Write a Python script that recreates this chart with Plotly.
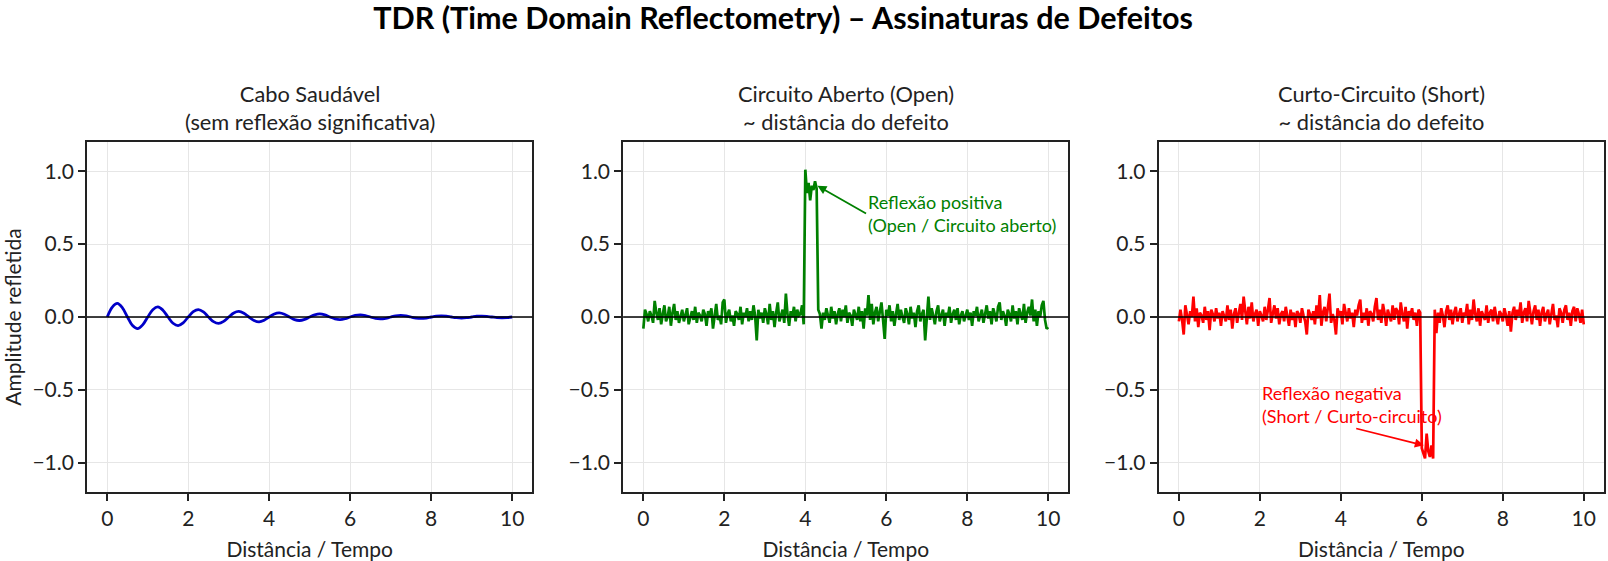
import numpy as np
import plotly.graph_objects as go

# --- data ---
x_blue = np.linspace(0, 10, 81)
y_blue = [
    0, 0.068, 0.093, 0.063, 0, -0.059, -0.080, -0.054,
    0, 0.050, 0.069, 0.047, 0, -0.043, -0.059, -0.040,
    0, 0.037, 0.051, 0.035, 0, -0.032, -0.044, -0.030,
    0, 0.028, 0.038, 0.026, 0, -0.024, -0.033, -0.022,
    0, 0.021, 0.028, 0.019, 0, -0.018, -0.024, -0.016,
    0, 0.015, 0.021, 0.014, 0, -0.013, -0.018, -0.012,
    0, 0.011, 0.015, 0.010, 0, -0.010, -0.013, -0.009,
    0, 0.008, 0.011, 0.008, 0, -0.007, -0.010, -0.007,
    0, 0.006, 0.008, 0.006, 0, -0.005, -0.007, -0.005,
    0, 0.005, 0.006, 0.004, 0, -0.004, -0.005, -0.004,
    0,
]

y_open = [
    -0.08, 0.05, 0.02, -0.03, 0.04, 0.01, -0.04, 0.11, 0.03, -0.02, 0.06, -0.05, 0.02, 0.08, -0.03, 0.00, 0.07, -0.06, 0.03, 0.09, -0.02, 0.04, -0.04, 0.01, 0.05,
    -0.03, 0.02, 0.06, -0.05, 0.00, 0.04, -0.02, 0.07, -0.04, 0.03, 0.01, -0.03, 0.05, 0.02, -0.06, 0.04, 0.00, 0.06, -0.08, 0.03, 0.09, -0.02, 0.01, -0.05, 0.10,
    0.12, -0.04, 0.02, 0.05, -0.03, 0.01, -0.06, 0.04, 0.02, -0.02, 0.07, -0.05, 0.03, 0.00, 0.06, -0.03, 0.04, -0.02, 0.08, 0.01, -0.16, 0.05, -0.01, 0.03, -0.04,
    0.06, 0.02, -0.05, 0.09, -0.02, 0.04, -0.07, 0.03, 0.10, -0.03, 0.01, 0.05, -0.04, 0.16, 0.02, -0.06, 0.04, 0.00, 0.07, -0.03, 0.05, 0.01, 0.02, 0.08, -0.05,
    1.01, 0.85, 0.92, 0.80, 0.90, 0.87, 0.93, 0.88, 0.05, 0.02, -0.08, 0.03, -0.02, 0.06, 0.01, -0.04, 0.07, -0.01, 0.04, -0.05, 0.02, 0.06, -0.03, 0.05, 0.00,
    0.08, -0.04, 0.03, 0.01, -0.06, 0.05, 0.02, -0.02, 0.07, -0.03, 0.04, -0.08, 0.06, 0.01, 0.15, -0.02, 0.09, -0.05, 0.03, 0.07, -0.03, 0.04, 0.10, -0.02, -0.15,
    0.05, 0.01, 0.08, -0.03, 0.04, -0.06, 0.02, 0.09, -0.02, 0.05, 0.00, -0.04, 0.06, 0.02, -0.05, 0.07, -0.01, 0.03, -0.07, 0.04, 0.08, -0.03, 0.02, 0.05, -0.16,
    0.03, 0.14, -0.02, 0.06, 0.01, -0.05, 0.04, 0.08, -0.03, 0.02, 0.05, -0.06, 0.03, 0.00, 0.07, -0.04, 0.02, 0.05, -0.02, 0.06, -0.05, 0.01, 0.04, -0.03, 0.02,
    0.05, -0.02, 0.03, -0.06, 0.04, 0.01, 0.07, -0.03, 0.02, 0.05, -0.04, 0.03, 0.08, -0.01, 0.04, -0.05, 0.06, 0.02, -0.03, 0.07, 0.10, -0.02, 0.04, 0.01, -0.06,
    0.05, 0.02, -0.03, 0.08, -0.01, 0.04, -0.05, 0.06, 0.02, -0.02, 0.09, -0.04, 0.03, 0.07, 0.01, 0.12, -0.03, 0.05, -0.06, 0.04, 0.00, 0.08, 0.11, -0.02, -0.08,
    -0.07,
]

y_short = [
    -0.03, 0.05, -0.02, -0.12, 0.08, 0.02, -0.05, 0.04, 0.00, 0.14, -0.03, 0.06, -0.07, 0.03, 0.01, -0.04, 0.07, -0.02, 0.04, -0.09, 0.05, 0.02, -0.03, 0.06, -0.01,
    0.03, -0.06, 0.04, 0.01, -0.03, 0.08, -0.02, 0.05, -0.08, 0.02, 0.06, -0.04, 0.03, 0.09, -0.02, 0.14, 0.04, -0.05, 0.07, -0.01, 0.10, -0.03, 0.02, 0.05, -0.06,
    0.04, 0.01, -0.03, 0.07, -0.02, 0.05, 0.13, -0.04, 0.03, 0.08, -0.01, 0.06, -0.05, 0.02, 0.04, -0.03, 0.07, 0.01, -0.06, 0.05, -0.02, 0.03, -0.07, 0.04, 0.02,
    -0.04, 0.06, 0.01, -0.03, -0.12, 0.05, 0.02, -0.02, 0.04, -0.05, 0.08, -0.01, 0.15, -0.06, 0.03, 0.07, -0.03, 0.05, 0.16, -0.04, 0.02, -0.02, -0.12, 0.06, 0.01,
    0.04, -0.05, 0.09, 0.02, -0.03, 0.06, -0.01, 0.03, -0.07, 0.05, 0.01, 0.08, 0.12, -0.04, 0.03, -0.02, 0.06, -0.06, 0.04, 0.02, -0.03, 0.07, 0.13, -0.02, 0.05,
    -0.04, 0.09, 0.03, -0.06, 0.05, 0.01, -0.03, 0.08, -0.02, 0.06, 0.04, -0.05, 0.10, 0.02, -0.03, 0.07, -0.08, 0.04, 0.01, 0.06, -0.02, 0.03, -0.06, 0.05, 0.03,
    -0.90, -0.93, -0.97, -0.80, -0.92, -0.96, -0.88, -0.97, 0.05, -0.11, 0.03, -0.04, 0.06, 0.01, -0.07, 0.04, 0.08, -0.02, 0.05, -0.05, 0.03, 0.07, -0.03, 0.02, 0.06,
    -0.04, 0.03, 0.01, 0.09, -0.05, 0.05, -0.02, 0.12, 0.02, -0.03, 0.06, -0.06, 0.04, 0.01, -0.02, 0.08, -0.04, 0.03, 0.05, -0.03, 0.07, 0.00, -0.05, 0.04, 0.02,
    -0.03, 0.06, 0.01, -0.06, 0.04, -0.10, 0.03, 0.07, -0.02, 0.05, 0.01, 0.10, -0.04, 0.03, 0.06, -0.03, 0.11, 0.02, -0.05, 0.04, 0.08, -0.02, 0.05, -0.06, 0.03,
    0.07, -0.03, 0.02, 0.05, -0.05, 0.04, 0.09, -0.02, 0.01, -0.07, 0.06, 0.03, -0.04, 0.05, 0.08, -0.02, 0.03, -0.06, 0.04, 0.07, -0.03, 0.06, 0.02, -0.04, 0.05,
    -0.05,
]
assert len(y_open) == 251 and len(y_short) == 251
x_noise = np.linspace(0, 10, 251)

panel_titles = [
    "Cabo Saudável<br>(sem reflexão significativa)",
    "Circuito Aberto (Open)<br>~ distância do defeito",
    "Curto-Circuito (Short)<br>~ distância do defeito",
]
x_ticks = [0, 2, 4, 6, 8, 10]
y_ticks = [-1.0, -0.5, 0.0, 0.5, 1.0]
y_tick_text = ["−1.0", "−0.5", "0.0", "0.5", "1.0"]

FONT = "Lato"
INK = "#222222"
domains = [[0.0, 0.2936], [0.3534, 0.6470], [0.7064, 1.0]]

fig = go.Figure()
fig.add_trace(go.Scatter(x=x_blue, y=y_blue, mode="lines", line=dict(color="#0000c8", width=2.8, shape="spline"),
                         xaxis="x", yaxis="y"))
fig.add_trace(go.Scatter(x=x_noise, y=y_open, mode="lines", line=dict(color="green", width=2.7),
                         xaxis="x2", yaxis="y2"))
fig.add_trace(go.Scatter(x=x_noise, y=y_short, mode="lines", line=dict(color="red", width=2.7),
                         xaxis="x3", yaxis="y3"))

axis_common = dict(showline=True, mirror=True, linecolor=INK, linewidth=1.7,
                   ticks="outside", ticklen=7, tickwidth=1.7, tickcolor=INK,
                   showgrid=True, gridcolor="#e6e6e6", gridwidth=1.4, zeroline=False,
                   tickfont=dict(family=FONT, size=21, color=INK))

layout = dict(
    width=1608, height=561,
    margin=dict(l=87, r=2, t=142, b=69),
    plot_bgcolor="white", paper_bgcolor="white",
    showlegend=False,
    font=dict(family=FONT, color=INK),
    title=dict(text="<b>TDR (Time Domain Reflectometry) – Assinaturas de Defeitos</b>",
               x=0.487, xanchor="center", y=0.967, yanchor="middle",
               font=dict(family=FONT, size=30.5, color="black")),
)
annotations = []
for i in range(3):
    sx = "" if i == 0 else str(i + 1)
    layout["xaxis" + sx] = dict(axis_common, domain=domains[i], range=[-0.5, 10.5],
                                tickvals=x_ticks, anchor="y" + sx,
                                title=dict(text="Distância / Tempo", standoff=13,
                                           font=dict(family=FONT, size=21, color=INK)))
    layout["yaxis" + sx] = dict(axis_common, range=[-1.2, 1.2], tickvals=y_ticks,
                                ticktext=y_tick_text, anchor="x" + sx)
    annotations.append(dict(text=panel_titles[i], xref="paper", yref="paper",
                            x=(domains[i][0] + domains[i][1]) / 2, y=1.0, yshift=5,
                            xanchor="center", yanchor="bottom", showarrow=False,
                            font=dict(family=FONT, size=21.8, color=INK)))
layout["yaxis"]["title"] = dict(text="Amplitude refletida", standoff=12,
                                font=dict(family=FONT, size=21, color=INK))

annotations.append(dict(text="Reflexão positiva<br>(Open / Circuito aberto)", align="left",
                        x=4.3, y=0.9, xref="x2", yref="y2",
                        ax=5.5, ay=0.71, axref="x2", ayref="y2", xanchor="left", yanchor="middle",
                        showarrow=True, arrowhead=2, arrowsize=1, arrowwidth=1.8, arrowcolor="green",
                        font=dict(family=FONT, size=18, color="green")))
annotations.append(dict(text="Reflexão negativa<br>(Short / Curto-circuito)", align="left",
                        x=6.05, y=-0.88, xref="x3", yref="y3",
                        ax=2.0, ay=-0.6, axref="x3", ayref="y3", xanchor="left", yanchor="middle",
                        showarrow=True, arrowhead=2, arrowsize=1, arrowwidth=1.8, arrowcolor="red",
                        font=dict(family=FONT, size=18, color="red")))
layout["annotations"] = annotations
fig.update_layout(**layout)

# zero reference line drawn above the signals
for i in range(3):
    sx = "" if i == 0 else str(i + 1)
    fig.add_shape(type="line", x0=0, x1=1, y0=0, y1=0, xref="x" + sx + " domain", yref="y" + sx,
                  line=dict(color="black", width=1.3), layer="above")

# drop the default page margin so the figure sits at the window origin
fig.write_html("out.html", config={"displayModeBar": False},
               post_script="document.body.style.margin='0';document.body.style.overflow='hidden';")
